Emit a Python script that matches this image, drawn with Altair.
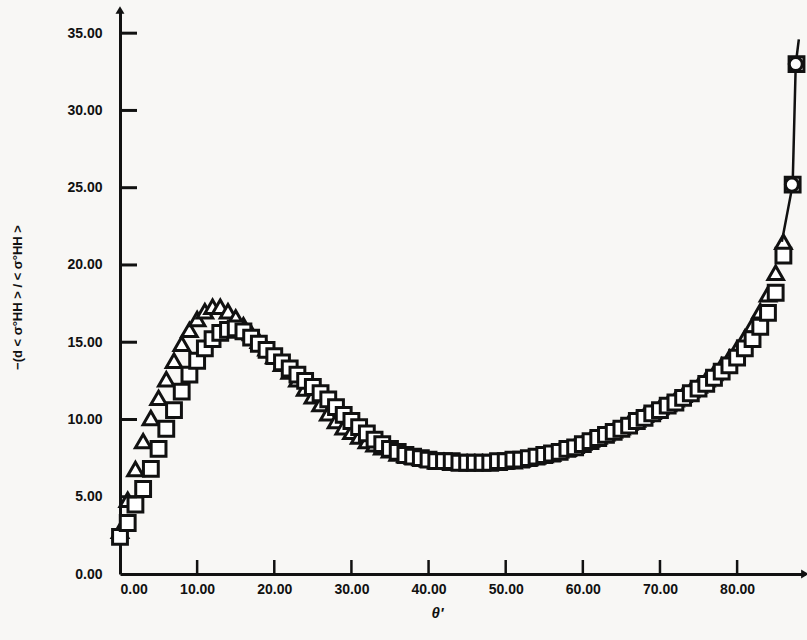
import altair as alt
import pandas as pd

# ---- data ----
tri_vals = [2.8, 4.8, 6.8, 8.6, 10.1, 11.4, 12.6, 13.8, 14.9, 15.8, 16.5, 17.0, 17.3, 17.3, 17.0,
            16.6, 16.1, 15.6, 15.1, 14.6, 14.1, 13.6, 13.1, 12.6, 12.0, 11.5, 11.0, 10.4, 9.9, 9.5,
            9.2, 8.9, 8.6, 8.4, 8.2, 8.0, 7.8, 7.7, 7.6, 7.5, 7.4, 7.3, 7.3, 7.2, 7.2, 7.2, 7.2,
            7.2, 7.2, 7.2, 7.3, 7.3, 7.4, 7.5, 7.6, 7.7, 7.8, 8.0, 8.1, 8.3, 8.5, 8.7, 8.9, 9.1,
            9.3, 9.5, 9.8, 10.0, 10.3, 10.5, 10.8, 11.0, 11.3, 11.6, 11.9, 12.2, 12.6, 13.0, 13.5,
            14.0, 14.6, 15.3, 16.1, 17.0, 18.1, 19.5, 21.5]
tri_theta = list(range(len(tri_vals)))

sq_vals = [2.4, 3.3, 4.5, 5.5, 6.8, 8.1, 9.4, 10.6, 11.8, 12.9, 13.8, 14.6, 15.2, 15.6, 15.8,
           15.9, 15.7, 15.3, 14.9, 14.5, 14.1, 13.7, 13.3, 12.9, 12.5, 12.1, 11.7, 11.3, 10.8,
           10.3, 9.9, 9.5, 9.1, 8.7, 8.4, 8.1, 7.9, 7.7, 7.6, 7.5, 7.4, 7.3, 7.3, 7.3, 7.2, 7.2,
           7.2, 7.2, 7.2, 7.3, 7.3, 7.4, 7.4, 7.5, 7.6, 7.7, 7.8, 7.9, 8.1, 8.2, 8.4, 8.6, 8.8,
           9.0, 9.2, 9.4, 9.6, 9.9, 10.1, 10.4, 10.6, 10.9, 11.1, 11.4, 11.7, 12.0, 12.3, 12.7,
           13.1, 13.5, 14.0, 14.6, 15.2, 16.0, 16.9, 18.2, 20.6, 25.2, 33.0]
sq_theta = list(range(len(sq_vals) - 2)) + [87.2, 87.7]

circ_theta = [87.1, 87.6]
circ_vals = [25.2, 33.0]

line_theta = [85.8, 87.2, 87.6, 88.0]
line_vals = [21.5, 25.2, 33.0, 34.6]

x_ticks = [0, 10, 20, 30, 40, 50, 60, 70, 80]
y_ticks = [0, 5, 10, 15, 20, 25, 30, 35]
x_max = 88.8
y_max = 36.5

W, H = 685, 564
xs = alt.Scale(domain=[0, x_max], nice=False, zero=False)
ys = alt.Scale(domain=[0, y_max], nice=False, zero=False)

tri_df = pd.DataFrame({"t": tri_theta, "v": tri_vals})
sq_df = pd.DataFrame({"t": sq_theta, "v": sq_vals})
circ_df = pd.DataFrame({"t": circ_theta, "v": circ_vals})
line_df = pd.DataFrame({"t": line_theta, "v": line_vals})

font = "Liberation Sans"
ink = "#111"

tri = alt.Chart(tri_df).mark_point(
    shape="triangle-up", filled=True, fill="white", stroke=ink, strokeWidth=3, size=240, opacity=1
).encode(
    x=alt.X("t:Q", scale=xs, axis=alt.Axis(
        values=x_ticks, format=".2f", ticks=False, grid=False, labelPadding=8,
        title="θ'", titleX=317, titleY=31, titleFontSize=15, titleFontWeight="bold",
        titleFontStyle="italic")),
    y=alt.Y("v:Q", scale=ys, axis=alt.Axis(
        values=y_ticks, format=".2f", ticks=False, grid=False, labelPadding=18,
        title="−(d < σ°HH > / < σ°HH >", titleAngle=270, titleX=-103, titleY=287,
        titleAlign="center", titleBaseline="middle", titleFontSize=13, titleFontWeight="bold")),
)

sq = alt.Chart(sq_df).mark_point(
    shape="square", filled=True, fill="white", stroke=ink, strokeWidth=3, size=220, opacity=1
).encode(x=alt.X("t:Q", scale=xs), y=alt.Y("v:Q", scale=ys))

line = alt.Chart(line_df).mark_line(color=ink, strokeWidth=2.5).encode(
    x=alt.X("t:Q", scale=xs), y=alt.Y("v:Q", scale=ys))

circ = alt.Chart(circ_df).mark_point(
    shape="circle", filled=True, fill="white", stroke=ink, strokeWidth=3, size=170, opacity=1
).encode(x=alt.X("t:Q", scale=xs), y=alt.Y("v:Q", scale=ys))

ytick_df = pd.DataFrame({"v": y_ticks[1:]})
xtick_df = pd.DataFrame({"t": x_ticks[1:]})

yt = alt.Chart(ytick_df).mark_rule(color=ink, strokeWidth=3).encode(
    y=alt.Y("v:Q", scale=ys), x=alt.value(0), x2=alt.value(17))
xt = alt.Chart(xtick_df).mark_rule(color=ink, strokeWidth=2.5).encode(
    x=alt.X("t:Q", scale=xs), y=alt.value(H), y2=alt.value(H - 14))

arrow_up = alt.Chart(pd.DataFrame({"t": [0], "v": [y_max]})).mark_point(
    shape="triangle-up", filled=True, color=ink, size=80, opacity=1
).encode(x=alt.X("t:Q", scale=xs), y=alt.Y("v:Q", scale=ys))
arrow_right = alt.Chart(pd.DataFrame({"t": [x_max], "v": [0]})).mark_point(
    shape="triangle-right", filled=True, color=ink, size=80, opacity=1
).encode(x=alt.X("t:Q", scale=xs), y=alt.Y("v:Q", scale=ys))

chart = alt.layer(tri, sq, line, circ, yt, xt, arrow_up, arrow_right).properties(
    width=W, height=H, autosize="none",
    padding={"left": 120, "top": 10, "right": 2, "bottom": 66},
    background="#f8f7f5",
).configure_view(stroke=None).configure_axis(
    domainColor=ink, domainWidth=3, labelFont=font, labelFontSize=14,
    labelFontWeight="bold", labelColor=ink, titleFont=font, titleColor=ink,
)

chart.save("out.html", embed_options={"renderer": "svg", "actions": False})
